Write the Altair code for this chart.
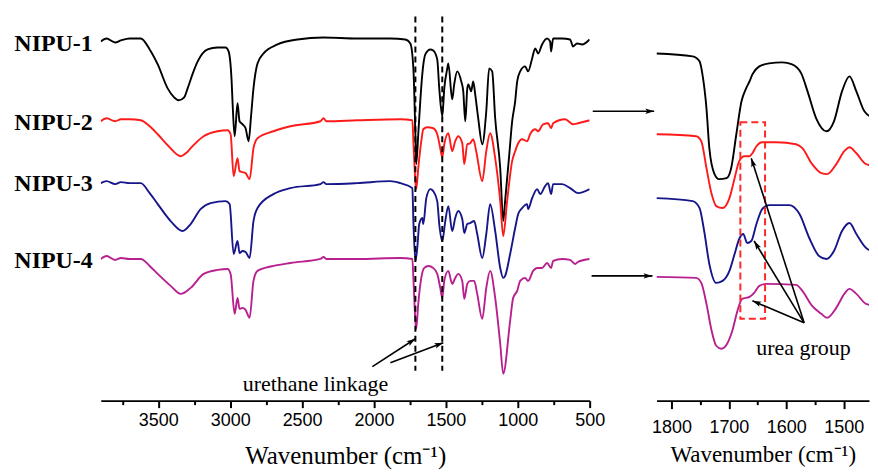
import math
import altair as alt
import pandas as pd

SAMPLES = ["NIPU-1", "NIPU-2", "NIPU-3", "NIPU-4"]
COLORS = ["#000000", "#ff1a1a", "#16168a", "#b8208f"]

# ---- full-range spectra: wavenumber (cm-1) and offset transmittance (a.u.) ----
wn_full_1 = [3900, 3860, 3800, 3760, 3700, 3622, 3560, 3504, 3435, 3390, 3358, 3320, 3296, 3260, 3226, 3157, 3088, 3032, 3011, 2990, 2983, 2969, 2949, 2935, 2914, 2893, 2872, 2855, 2838, 2810, 2768, 2671, 2532, 2351, 2115, 1886, 1782, 1747, 1726, 1712, 1706, 1692, 1678, 1664, 1643, 1608, 1588, 1560, 1546, 1525, 1511, 1490, 1483, 1456, 1442, 1421, 1393, 1379, 1365, 1351, 1344, 1324, 1310, 1296, 1275, 1247, 1219, 1199, 1178, 1157, 1122, 1101, 1088, 1060, 1039, 1018, 1004, 983, 949, 928, 900, 879, 858, 831, 796, 775, 768, 754, 692, 636, 615, 588, 553, 500]
t_full_1 = [360, 363, 359, 361, 363, 363, 352, 337, 313, 304, 301, 304, 313, 328, 340, 352, 354, 354, 350, 320, 297, 265, 298, 280, 277, 273, 260, 285, 313, 338, 348, 357, 362, 364, 363, 363, 362, 358, 333, 267, 237, 267, 300, 327, 347, 352, 351, 342, 313, 285, 313, 333, 338, 302, 317, 330, 320, 310, 280, 313, 317, 310, 320, 307, 283, 257, 290, 333, 330, 283, 233, 180, 200, 245, 280, 300, 320, 330, 335, 330, 343, 353, 348, 357, 363, 360, 350, 363, 363, 362, 355, 358, 357, 362]

wn_full_2 = [3900, 3860, 3800, 3760, 3700, 3622, 3560, 3504, 3428, 3344, 3300, 3275, 3185, 3088, 3018, 2997, 2976, 2949, 2935, 2914, 2893, 2865, 2838, 2810, 2699, 2581, 2372, 2351, 2331, 2115, 1817, 1733, 1726, 1712, 1706, 1692, 1671, 1657, 1629, 1588, 1560, 1539, 1525, 1511, 1483, 1456, 1435, 1414, 1386, 1372, 1351, 1331, 1310, 1289, 1247, 1219, 1192, 1157, 1122, 1101, 1074, 1039, 1018, 997, 970, 935, 914, 879, 858, 824, 789, 768, 754, 671, 615, 581, 500]
t_full_2 = [280, 283, 280, 282, 282, 281, 275, 267, 255, 245, 249, 253, 265, 270, 271, 267, 225, 243, 230, 229, 228, 222, 253, 263, 270, 275, 280, 283, 280, 281, 282, 281, 260, 220, 212, 233, 260, 272, 274, 273, 267, 253, 244, 257, 268, 250, 260, 265, 258, 237, 257, 258, 262, 250, 220, 250, 268, 243, 200, 165, 200, 240, 250, 258, 262, 260, 267, 272, 270, 277, 278, 273, 278, 282, 277, 278, 281]

wn_full_3 = [3900, 3860, 3800, 3760, 3700, 3622, 3560, 3504, 3414, 3331, 3275, 3206, 3136, 3032, 3004, 2976, 2949, 2935, 2914, 2893, 2865, 2838, 2810, 2699, 2581, 2372, 2351, 2331, 2115, 1886, 1817, 1733, 1726, 1712, 1699, 1685, 1664, 1657, 1636, 1608, 1588, 1560, 1546, 1525, 1504, 1483, 1456, 1435, 1414, 1386, 1372, 1351, 1331, 1303, 1282, 1247, 1219, 1192, 1157, 1122, 1101, 1088, 1053, 1018, 997, 970, 935, 928, 900, 865, 844, 810, 789, 768, 754, 692, 636, 581, 500]
t_full_3 = [218, 220, 217, 219, 218, 218, 208, 197, 180, 170, 177, 192, 198, 200, 197, 147, 160, 148, 150, 149, 143, 180, 193, 207, 213, 217, 219, 217, 218, 220, 218, 213, 180, 140, 153, 177, 183, 177, 203, 212, 210, 200, 177, 160, 180, 195, 170, 183, 190, 182, 168, 177, 178, 180, 167, 143, 167, 197, 170, 133, 123, 125, 147, 173, 187, 193, 197, 192, 203, 212, 207, 215, 218, 207, 217, 217, 213, 208, 212]

wn_full_4 = [3900, 3860, 3800, 3760, 3700, 3622, 3560, 3504, 3414, 3344, 3275, 3185, 3088, 3018, 2997, 2969, 2949, 2935, 2914, 2893, 2865, 2838, 2810, 2699, 2581, 2372, 2351, 2331, 2115, 1817, 1733, 1726, 1712, 1706, 1692, 1671, 1650, 1622, 1588, 1560, 1539, 1525, 1511, 1483, 1456, 1435, 1414, 1386, 1372, 1351, 1331, 1303, 1282, 1247, 1219, 1192, 1157, 1122, 1101, 1053, 1032, 1004, 983, 949, 928, 893, 865, 831, 796, 768, 754, 692, 636, 601, 581, 500]
t_full_4 = [142, 145, 141, 143, 142, 142, 135, 127, 115, 107, 113, 127, 131, 132, 127, 87, 103, 92, 93, 91, 83, 120, 130, 135, 138, 142, 144, 142, 142, 143, 142, 123, 80, 72, 97, 123, 133, 135, 133, 127, 113, 103, 120, 130, 117, 123, 127, 120, 102, 117, 120, 120, 107, 82, 113, 130, 103, 57, 27, 80, 103, 110, 120, 123, 120, 130, 133, 133, 138, 133, 140, 142, 141, 137, 139, 142]

# ---- expanded 1830-1440 cm-1 region ----
wn_zoom_1 = [1826, 1763, 1751, 1746, 1739, 1734, 1725, 1717, 1704, 1696, 1687, 1678, 1670, 1664, 1659, 1647, 1630, 1607, 1590, 1574, 1563, 1548, 1530, 1517, 1503, 1490, 1478, 1464, 1452, 1442]
t_zoom_1 = [348, 345, 340, 327, 293, 253, 227, 222, 223, 233, 267, 300, 313, 320, 327, 335, 338, 339, 337, 328, 310, 283, 270, 280, 310, 325, 310, 290, 285, 293]

wn_zoom_2 = [1826, 1757, 1748, 1739, 1730, 1722, 1711, 1699, 1690, 1682, 1673, 1664, 1659, 1652, 1642, 1617, 1583, 1572, 1555, 1539, 1529, 1513, 1499, 1490, 1478, 1461, 1442]
t_zoom_2 = [267, 265, 260, 233, 207, 195, 193, 203, 223, 240, 245, 245, 248, 255, 259, 259, 257, 253, 237, 228, 227, 237, 250, 254, 248, 237, 235]

wn_zoom_3 = [1826, 1763, 1751, 1743, 1734, 1722, 1711, 1699, 1690, 1682, 1675, 1668, 1661, 1652, 1642, 1630, 1595, 1577, 1560, 1543, 1530, 1517, 1503, 1490, 1478, 1461, 1450, 1442]
t_zoom_3 = [203, 200, 193, 170, 137, 118, 120, 130, 147, 162, 167, 158, 160, 177, 192, 196, 196, 187, 163, 145, 142, 150, 170, 178, 167, 153, 150, 155]

wn_zoom_4 = [1826, 1757, 1748, 1739, 1730, 1722, 1713, 1703, 1694, 1685, 1677, 1664, 1656, 1647, 1635, 1583, 1572, 1555, 1539, 1529, 1513, 1499, 1490, 1478, 1461, 1442]
t_zoom_4 = [124, 123, 118, 97, 70, 55, 52, 57, 70, 90, 102, 104, 108, 115, 117, 116, 110, 95, 87, 83, 93, 107, 112, 107, 97, 95]

# ---- annotations (data coordinates) ----
label_t = [357, 278, 217, 140]
linkage_wn = [1712, 1525]
linkage_t = [385, 30]
ure_from_wn = [2011, 1886]
ure_from_t = [34, 38]
ure_to_wn = [1712, 1518]
ure_to_t = [62, 58]
ure_text = ("urethane linkage", 2407, 17)
shift_from_wn = [1937, 1939]
shift_to_wn = [1830, 1833]
shift_t = [290, 125]
urea_from = (1569, 78)
urea_to_wn = [1661, 1656, 1659]
urea_to_t = [243, 160, 100]
urea_box = (1680, 1637, 82, 279)
urea_text = ("urea group", 1570, 53)

left_ticks = [3750, 3500, 3250, 3000, 2750, 2500, 2250, 2000, 1750, 1500, 1250, 1000, 750, 500]
right_ticks = [1800, 1750, 1700, 1650, 1600, 1550, 1500]

LEFT_W, RIGHT_W, H = 490, 213, 392
LEFT_DOM = [500, 3900]
RIGHT_DOM = [1456, 1826]
TITLE = "Wavenumber (cm\u207b\u00b9)"
ARROW = "M0,0 L0.7,2.3 L0,1.8 L-0.7,2.3 Z"


def long_df(wns, ts):
    rows = []
    for s, w, t in zip(SAMPLES, wns, ts):
        for a, b in zip(w, t):
            rows.append({"sample": s, "wn": a, "t": b})
    return pd.DataFrame(rows)


def arrow_df(fw, ft, tw, tt, kx):
    rows = []
    for a, b, c, d in zip(fw, ft, tw, tt):
        dx = -(c - a) * kx
        dy = -(d - b)
        ang = (math.degrees(math.atan2(dx, -dy)) + 360) % 360
        rows.append({"wn": a, "t": b, "wn2": c, "t2": d, "ang": ang})
    return pd.DataFrame(rows)


color = alt.Color("sample:N", scale=alt.Scale(domain=SAMPLES, range=COLORS), legend=None)
yscale = alt.Scale(domain=[0, H], nice=False, zero=False)
Y = alt.Y("t:Q", scale=yscale, axis=None)
Y2 = alt.Y2("t2:Q")


def panel(wns, ts, dom, width, ticks, major, axis_kw, extra):
    xs = alt.Scale(domain=dom, reverse=True, nice=False, zero=False)
    axis = alt.Axis(
        values=ticks, format="d",
        labelExpr=f"datum.value % {major} === 0 ? datum.label : ''",
        tickSize={"condition": {"test": f"datum.value % {major} === 0", "value": axis_kw["tick"]}, "value": 4},
        domainColor="black", domainWidth=2, tickColor="black", tickWidth=2,
        labelFont="Liberation Sans", labelFontSize=18, labelColor="black",
        labelPadding=axis_kw["lp"], labelFlush=False,
        title=TITLE, titleFont="Liberation Serif", titleFontSize=axis_kw["tfs"],
        titleFontWeight="normal", titleColor="black", titlePadding=axis_kw["tp"], grid=False,
    )
    X = alt.X("wn:Q", scale=xs, axis=axis, title=TITLE)
    X_end = alt.X("wn2:Q", scale=xs, axis=axis, title=TITLE)
    lines = alt.Chart(long_df(wns, ts)).mark_line(strokeWidth=1.9, clip=True, interpolate="monotone").encode(
        x=X, y=Y, color=color
    )
    layers = [lines] + [e(X, X_end) for e in extra]
    return alt.layer(*layers).properties(width=width, height=H)


def arrows(df):
    def make(X, X_end):
        ln = alt.Chart(df).mark_rule(color="black", strokeWidth=1.6).encode(
            x=X, x2=alt.X2("wn2:Q"), y=Y, y2=Y2)
        hd = alt.Chart(df).mark_point(shape=ARROW, filled=True, size=60, color="black", opacity=1, strokeWidth=0).encode(
            x=X_end, y=alt.Y("t2:Q", scale=yscale, axis=None),
            angle=alt.Angle("ang:Q", scale=None))
        return ln + hd
    return make


def text_layer(txt, w, t, size=22):
    def make(X, X_end):
        return alt.Chart(pd.DataFrame({"wn": [w], "t": [t], "txt": [txt]})).mark_text(
            font="Liberation Serif", fontSize=size, color="black", baseline="middle").encode(
            x=X, y=Y, text="txt:N")
    return make


def sample_labels(X, X_end):
    df = pd.DataFrame({"sample": SAMPLES, "t": label_t})
    return alt.Chart(df).mark_text(font="Liberation Serif", fontSize=24, fontWeight="bold",
                                   align="right", baseline="middle", color="black").encode(
        x=alt.value(-8), y=Y, text="sample:N")


def linkage_lines(X, X_end):
    df = pd.DataFrame({"wn": linkage_wn, "t": [linkage_t[0]] * 2, "t2": [linkage_t[1]] * 2})
    return alt.Chart(df).mark_rule(color="black", strokeWidth=2, strokeDash=[6, 4]).encode(x=X, y=Y, y2=Y2)


def urea_rect(X, X_end):
    df = pd.DataFrame({"wn": [urea_box[0]], "wn2": [urea_box[1]], "t": [urea_box[2]], "t2": [urea_box[3]]})
    return alt.Chart(df).mark_rect(fill="transparent", stroke="#ff2a2a", strokeWidth=2, strokeDash=[7, 4]).encode(
        x=X, x2=alt.X2("wn2:Q"), y=Y, y2=Y2)


kL = LEFT_W / (LEFT_DOM[1] - LEFT_DOM[0])
kR = RIGHT_W / (RIGHT_DOM[1] - RIGHT_DOM[0])

left = panel([wn_full_1, wn_full_2, wn_full_3, wn_full_4], [t_full_1, t_full_2, t_full_3, t_full_4],
             LEFT_DOM, LEFT_W, left_ticks, 500, {"tick": 7, "lp": 4, "tfs": 25, "tp": 14},
             [linkage_lines, arrows(arrow_df(ure_from_wn, ure_from_t, ure_to_wn, ure_to_t, kL)),
              text_layer(*ure_text), sample_labels])

right = panel([wn_zoom_1, wn_zoom_2, wn_zoom_3, wn_zoom_4], [t_zoom_1, t_zoom_2, t_zoom_3, t_zoom_4],
              RIGHT_DOM, RIGHT_W, right_ticks, 100, {"tick": 8, "lp": 10, "tfs": 23, "tp": 7},
              [urea_rect,
               arrows(arrow_df(shift_from_wn, shift_t, shift_to_wn, shift_t, kR)),
               arrows(arrow_df([urea_from[0]] * 3, [urea_from[1]] * 3, urea_to_wn, urea_to_t, kR)),
               text_layer(*urea_text)])

chart = alt.hconcat(left, right, spacing=67, bounds="flush").properties(
    padding={"left": 5, "top": 0, "right": 0, "bottom": 0}, background="white"
).configure_view(stroke="transparent")

chart.save("out.html", embed_options={"renderer": "svg", "actions": False})
